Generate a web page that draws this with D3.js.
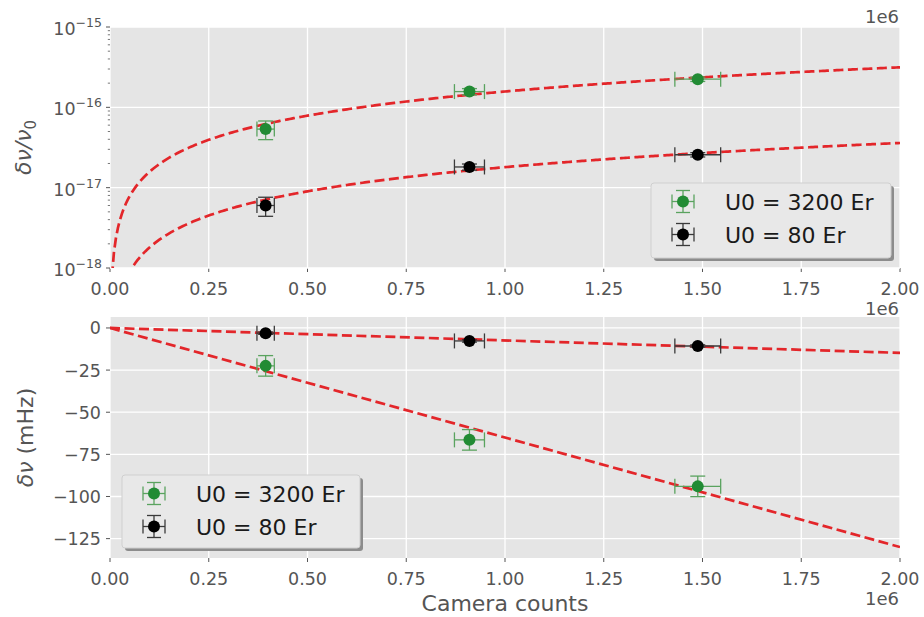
<!DOCTYPE html>
<html>
<head>
<meta charset="utf-8">
<script src="https://cdn.jsdelivr.net/npm/d3@7"></script>
<style>
  html, body { margin: 0; padding: 0; background: #ffffff; }
  svg { display: block; font-family: "DejaVu Sans", sans-serif; }
</style>
</head>
<body>
<svg id="chart" width="924" height="617"></svg>
<script>
// ---------------- data ----------------
const cameraCounts = [0.394e6, 0.910e6, 1.488e6];
const countErr     = [0.022e6, 0.038e6, 0.058e6];

// fractional shift (top panel)
const fracGreen    = [5.36e-17, 1.57e-16, 2.24e-16];
const fracGreenErr = [1.4e-17, 1.4e-17, 1.4e-17];
const fracBlack    = [6.0e-18, 1.81e-17, 2.57e-17];
const fracBlackErr = [1.6e-18, 1.6e-18, 1.6e-18];

// shift in mHz (bottom panel)
const shiftGreen    = [-22.5, -66.4, -94.0];
const shiftGreenErr = [6.1, 6.1, 6.1];
const shiftBlack    = [-3.1, -7.7, -10.7];
const shiftBlackErr = [0.7, 0.7, 0.7];

// linear fits: value at 2e6 counts
const fitFracAt2e6  = [3.15e-16, 3.6e-17];
const fitShiftAt2e6 = [-130.0, -14.8];

const seriesLabels = ["U0 = 3200 Er", "U0 = 80 Er"];
const xTicks = [0, 0.25e6, 0.5e6, 0.75e6, 1.0e6, 1.25e6, 1.5e6, 1.75e6, 2.0e6];
const logTicks = [1e-18, 1e-17, 1e-16, 1e-15];
const linTicks = [0, -25, -50, -75, -100, -125];

// ---------------- styling ----------------
const BG = "#E5E5E5", GRID = "#FFFFFF", TXT = "#555555";
const GREEN = "#228B34", GREEN_BAR = "#5AA35F";
const BLACK = "#000000", BLACK_BAR = "#3a3a3a";
const RED = "#E3262A";

const svg = d3.select("#chart");
const X0 = 110, X1 = 900;
const x = d3.scaleLinear().domain([0, 2e6]).range([X0, X1]);

const yTop = d3.scaleLog().domain([1e-18, 1e-15]).range([268, 27]);
const yBot = d3.scaleLinear().domain([-136.5, 6.5]).range([558, 317]);

function panel(y, yT, yB) {
  const g = svg.append("g");
  g.append("rect").attr("x", X0).attr("y", yT).attr("width", X1 - X0).attr("height", yB - yT).attr("fill", BG);
  g.selectAll(".vg").data(xTicks).join("line")
    .attr("x1", d => x(d)).attr("x2", d => x(d)).attr("y1", yT).attr("y2", yB)
    .attr("stroke", GRID).attr("stroke-width", 1.3);
  g.selectAll(".xt").data(xTicks).join("line")
    .attr("x1", d => x(d)).attr("x2", d => x(d)).attr("y1", yB).attr("y2", yB + 4)
    .attr("stroke", TXT).attr("stroke-width", 1);
  g.selectAll(".xl").data(xTicks).join("text")
    .attr("x", d => x(d)).attr("y", yB + 27).attr("text-anchor", "middle")
    .attr("font-size", 17.5).attr("fill", TXT)
    .text(d => (d / 1e6).toFixed(2));
  return g;
}

// ---------- top panel ----------
const gT = panel(yTop, 27, 268);
const logMinor = [];
for (let e = -18; e < -15; e++) for (let m = 2; m <= 9; m++) logMinor.push(m * Math.pow(10, e));
gT.selectAll(".hg").data(logTicks).join("line")
  .attr("x1", X0).attr("x2", X1).attr("y1", d => yTop(d)).attr("y2", d => yTop(d))
  .attr("stroke", GRID).attr("stroke-width", 1.3);
gT.selectAll(".ymt").data(logMinor).join("line")
  .attr("x1", X0 - 2.2).attr("x2", X0).attr("y1", d => yTop(d)).attr("y2", d => yTop(d))
  .attr("stroke", TXT).attr("stroke-width", 0.8);
gT.selectAll(".yt").data(logTicks).join("line")
  .attr("x1", X0 - 4).attr("x2", X0).attr("y1", d => yTop(d)).attr("y2", d => yTop(d))
  .attr("stroke", TXT).attr("stroke-width", 1);
const ylT = gT.selectAll(".yl").data(logTicks).join("text")
  .attr("x", 102).attr("y", d => yTop(d) + 8).attr("text-anchor", "end")
  .attr("font-size", 17.5).attr("fill", TXT);
ylT.append("tspan").text("10");
ylT.append("tspan").attr("font-size", 12.5).attr("dy", -8).text(d => "\u2212" + Math.round(-Math.log10(d)));

// ---------- bottom panel ----------
const gB = panel(yBot, 317, 558);
gB.selectAll(".hg").data(linTicks).join("line")
  .attr("x1", X0).attr("x2", X1).attr("y1", d => yBot(d)).attr("y2", d => yBot(d))
  .attr("stroke", GRID).attr("stroke-width", 1.3);
gB.selectAll(".yt").data(linTicks).join("line")
  .attr("x1", X0 - 4).attr("x2", X0).attr("y1", d => yBot(d)).attr("y2", d => yBot(d))
  .attr("stroke", TXT).attr("stroke-width", 1);
gB.selectAll(".yl").data(linTicks).join("text")
  .attr("x", 101).attr("y", d => yBot(d) + 6.5).attr("text-anchor", "end")
  .attr("font-size", 17.5).attr("fill", TXT)
  .text(d => d < 0 ? "\u2212" + (-d) : String(d));

// ---------- fits ----------
const clipT = svg.append("clipPath").attr("id", "clipT");
clipT.append("rect").attr("x", X0).attr("y", 27).attr("width", X1 - X0).attr("height", 241);
const clipB = svg.append("clipPath").attr("id", "clipB");
clipB.append("rect").attr("x", X0).attr("y", 317).attr("width", X1 - X0).attr("height", 241);

const xs = d3.range(0, 401).map(i => i * 2e6 / 400).filter(v => v > 0);
fitFracAt2e6.forEach(a => {
  const line = d3.line().x(v => x(v)).y(v => yTop(Math.max(a * v / 2e6, 1e-19)));
  svg.append("path").attr("d", line(xs)).attr("clip-path", "url(#clipT)")
    .attr("fill", "none").attr("stroke", RED).attr("stroke-width", 2.7).attr("stroke-dasharray", "10,4.5");
});
fitShiftAt2e6.forEach(a => {
  const line = d3.line().x(v => x(v)).y(v => yBot(a * v / 2e6));
  svg.append("path").attr("d", line([0, 2e6])).attr("clip-path", "url(#clipB)")
    .attr("fill", "none").attr("stroke", RED).attr("stroke-width", 2.7).attr("stroke-dasharray", "10,4.5");
});

// ---------- error bar points ----------
const CAP = 7.5;
function errPoints(y, vals, yerr, col, barCol) {
  const g = svg.append("g");
  cameraCounts.forEach((cx, i) => {
    const px = x(cx), py = y(vals[i]);
    const xa = x(cx - countErr[i]), xb = x(cx + countErr[i]);
    const ya = y(vals[i] + yerr[i]), yb = y(vals[i] - yerr[i]);
    const L = (x1, y1, x2, y2) => g.append("line").attr("x1", x1).attr("y1", y1).attr("x2", x2).attr("y2", y2)
      .attr("stroke", barCol).attr("stroke-width", 1.3);
    L(xa, py, xb, py);
    L(xa, py - CAP, xa, py + CAP);
    L(xb, py - CAP, xb, py + CAP);
    L(px, ya, px, yb);
    L(px - CAP, ya, px + CAP, ya);
    L(px - CAP, yb, px + CAP, yb);
    g.append("circle").attr("cx", px).attr("cy", py).attr("r", 6).attr("fill", col);
  });
}
errPoints(yTop, fracGreen, fracGreenErr, GREEN, GREEN_BAR);
errPoints(yTop, fracBlack, fracBlackErr, BLACK, BLACK_BAR);
errPoints(yBot, shiftGreen, shiftGreenErr, GREEN, GREEN_BAR);
errPoints(yBot, shiftBlack, shiftBlackErr, BLACK, BLACK_BAR);

// ---------- legends ----------
function legend(lx, ly, w, h) {
  const g = svg.append("g");
  g.append("rect").attr("x", lx + 3).attr("y", ly + 3).attr("width", w).attr("height", h).attr("rx", 3)
    .attr("fill", "#8c8c8c");
  g.append("rect").attr("x", lx).attr("y", ly).attr("width", w).attr("height", h).attr("rx", 3)
    .attr("fill", "#E8E8E8").attr("stroke", "#cfcfcf").attr("stroke-width", 1);
  const cols = [[GREEN, GREEN_BAR], [BLACK, BLACK_BAR]];
  seriesLabels.forEach((lab, i) => {
    const my = ly + 18.5 + i * 33, mx = lx + 32;
    const L = (x1, y1, x2, y2) => g.append("line").attr("x1", x1).attr("y1", y1).attr("x2", x2).attr("y2", y2)
      .attr("stroke", cols[i][1]).attr("stroke-width", 1.3);
    L(mx - 11, my, mx + 11, my);
    L(mx - 11, my - 7, mx - 11, my + 7);
    L(mx + 11, my - 7, mx + 11, my + 7);
    L(mx, my - 11, mx, my + 11);
    L(mx - 7, my - 11, mx + 7, my - 11);
    L(mx - 7, my + 11, mx + 7, my + 11);
    g.append("circle").attr("cx", mx).attr("cy", my).attr("r", 6).attr("fill", cols[i][0]);
    g.append("text").attr("x", lx + 74).attr("y", my + 8).attr("font-size", 22).attr("fill", "#1a1a1a").text(lab);
  });
}
legend(651, 183, 240, 75);
legend(122, 475, 238, 73);

// ---------- axis labels ----------
const yl1 = svg.append("text").attr("transform", "translate(31,147.5) rotate(-90)")
  .attr("text-anchor", "middle").attr("font-size", 22).attr("fill", TXT);
yl1.append("tspan").attr("font-style", "italic").text("\u03b4\u03bd/\u03bd");
yl1.append("tspan").attr("font-size", 15).attr("dy", 5).text("0");

const yl2 = svg.append("text").attr("transform", "translate(33,437.5) rotate(-90)")
  .attr("text-anchor", "middle").attr("font-size", 22).attr("fill", TXT);
yl2.append("tspan").attr("font-style", "italic").text("\u03b4\u03bd");
yl2.append("tspan").text(" (mHz)");

svg.append("text").attr("x", 505).attr("y", 611).attr("text-anchor", "middle")
  .attr("font-size", 22).attr("fill", TXT).text("Camera counts");

// offset texts
[23, 315, 605].forEach(by => {
  svg.append("text").attr("x", 899).attr("y", by).attr("text-anchor", "end")
    .attr("font-size", 18).attr("fill", TXT).text("1e6");
});
</script>
</body>
</html>
